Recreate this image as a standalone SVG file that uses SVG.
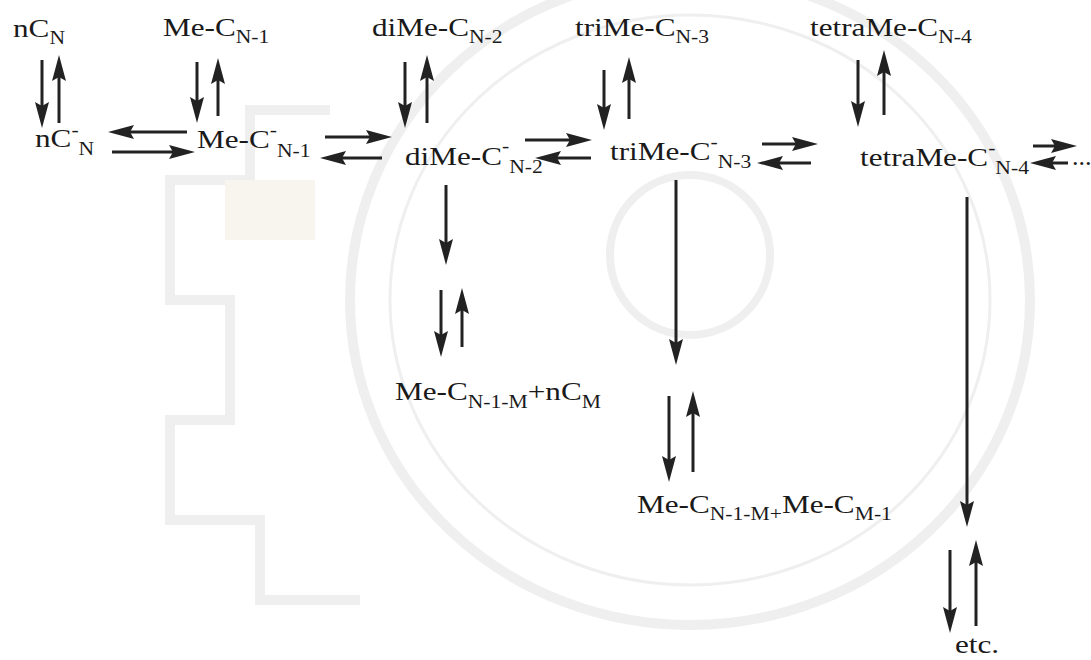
<svg xmlns="http://www.w3.org/2000/svg" width="1091" height="660" viewBox="0 0 1091 660">
  <defs>
    <style>
      .lbl { font-family: "Liberation Serif", "Times New Roman", serif; font-size: 26px; fill: #1a1a1a; }
      .sm { font-size: 18px; }
      .arr { stroke: #222; stroke-width: 3; fill: none; marker-end: url(#ah); }
      .wm { fill: none; stroke: #efefef; }
    </style>
    <marker id="ah" markerUnits="userSpaceOnUse" markerWidth="26" markerHeight="14" viewBox="0 0 26 14" refX="7" refY="7" orient="auto">
      <path d="M0,0 L26,7 L0,14 L4,7 z" fill="#222"/>
    </marker>
  </defs>

  <rect width="1091" height="660" fill="#ffffff"/>

  <!-- faint background emblem -->
  <g id="emblem">
    <ellipse class="wm" cx="690" cy="300" rx="340" ry="325" stroke-width="10"/>
    <ellipse class="wm" cx="690" cy="300" rx="300" ry="285" stroke-width="3"/>
    <circle class="wm" cx="690" cy="255" r="80" stroke-width="8"/>
    <path class="wm" stroke-width="10" d="M330,110 L250,110 L250,180 L170,180 L170,300 L230,300 L230,420 L170,420 L170,520 L260,520 L260,600 L360,600"/>
    <rect x="225" y="180" width="90" height="60" fill="#f8f5ee"/>
  </g>

  <!-- species labels -->
  <g id="nCN" class="lbl" transform="translate(13,37) scale(1.2,1)"><text x="0" y="0">nC<tspan class="sm" dy="7">N</tspan></text></g>
  <g id="MeCN1" class="lbl" transform="translate(163,36) scale(1.2,1)"><text x="0" y="0">Me-C<tspan class="sm" dy="7">N-1</tspan></text></g>
  <g id="diMeCN2" class="lbl" transform="translate(372,36) scale(1.2,1)"><text x="0" y="0">diMe-C<tspan class="sm" dy="7">N-2</tspan></text></g>
  <g id="triMeCN3" class="lbl" transform="translate(575,36) scale(1.2,1)"><text x="0" y="0">triMe-C<tspan class="sm" dy="7">N-3</tspan></text></g>
  <g id="tetraMeCN4" class="lbl" transform="translate(810,36) scale(1.2,1)"><text x="0" y="0">tetraMe-C<tspan class="sm" dy="7">N-4</tspan></text></g>

  <g id="nCNion" class="lbl" transform="translate(35,147) scale(1.2,1)"><text x="0" y="0">nC<tspan class="sm" dy="-11">-</tspan><tspan class="sm" dy="19">N</tspan></text></g>
  <g id="MeCN1ion" class="lbl" transform="translate(197,148) scale(1.2,1)"><text x="0" y="0">Me-C<tspan class="sm" dy="-12">-</tspan><tspan class="sm" dy="21">N-1</tspan></text></g>
  <g id="diMeCN2ion" class="lbl" transform="translate(405,165) scale(1.2,1)"><text x="0" y="0">diMe-C<tspan class="sm" dy="-13">-</tspan><tspan class="sm" dy="21">N-2</tspan></text></g>
  <g id="triMeCN3ion" class="lbl" transform="translate(610,160) scale(1.2,1)"><text x="0" y="0">triMe-C<tspan class="sm" dy="-12">-</tspan><tspan class="sm" dy="20">N-3</tspan></text></g>
  <g id="tetraMeCN4ion" class="lbl" transform="translate(860,166) scale(1.2,1)"><text x="0" y="0">tetraMe-C<tspan class="sm" dy="-12">-</tspan><tspan class="sm" dy="20">N-4</tspan></text></g>
  <g id="more" class="lbl" transform="translate(1072,165)"><text x="0" y="0">...</text></g>

  <g id="prod1" class="lbl" transform="translate(395,400) scale(1.2,1)"><text x="0" y="0">Me-C<tspan class="sm" dy="8">N-1-M</tspan><tspan dy="-8">+nC</tspan><tspan class="sm" dy="8">M</tspan></text></g>
  <g id="prod2" class="lbl" transform="translate(637,513) scale(1.2,1)"><text x="0" y="0">Me-C<tspan class="sm" dy="7">N-1-M+</tspan><tspan dy="-7">Me-C</tspan><tspan class="sm" dy="7">M-1</tspan></text></g>
  <g id="etc" class="lbl" transform="translate(955,653) scale(1.2,1)"><text x="0" y="0">etc.</text></g>

  <!-- reaction arrows -->
  <g id="connectors">
    <line class="arr" x1="42" y1="60" x2="42" y2="109"/>
    <line class="arr" x1="59" y1="123" x2="59" y2="74"/>
    <line class="arr" x1="197" y1="62" x2="197" y2="104"/>
    <line class="arr" x1="218" y1="116" x2="218" y2="77"/>
    <line class="arr" x1="405" y1="62" x2="405" y2="109"/>
    <line class="arr" x1="427" y1="123" x2="427" y2="74"/>
    <line class="arr" x1="604" y1="70" x2="604" y2="111"/>
    <line class="arr" x1="629" y1="119" x2="629" y2="76"/>
    <line class="arr" x1="858" y1="60" x2="858" y2="108"/>
    <line class="arr" x1="884" y1="115" x2="884" y2="69"/>

    <line class="arr" x1="187" y1="132" x2="127" y2="132"/>
    <line class="arr" x1="112" y1="152" x2="176" y2="152"/>
    <line class="arr" x1="325" y1="137" x2="373" y2="137"/>
    <line class="arr" x1="382" y1="158" x2="339" y2="158"/>
    <line class="arr" x1="525" y1="140" x2="573" y2="140"/>
    <line class="arr" x1="591" y1="158" x2="554" y2="158"/>
    <line class="arr" x1="762" y1="144" x2="799" y2="144"/>
    <line class="arr" x1="811" y1="163" x2="776" y2="163"/>
    <line class="arr" x1="1033" y1="146" x2="1058" y2="146"/>
    <line class="arr" x1="1068" y1="163" x2="1049" y2="163"/>

    <line class="arr" x1="446" y1="185" x2="446" y2="246"/>
    <line class="arr" x1="676" y1="180" x2="676" y2="346"/>
    <line class="arr" x1="967" y1="197" x2="967" y2="508"/>

    <line class="arr" x1="441" y1="290" x2="441" y2="338"/>
    <line class="arr" x1="462" y1="347" x2="462" y2="307"/>
    <line class="arr" x1="669" y1="396" x2="669" y2="463"/>
    <line class="arr" x1="693" y1="472" x2="693" y2="410"/>
    <line class="arr" x1="950" y1="550" x2="950" y2="614"/>
    <line class="arr" x1="976" y1="626" x2="976" y2="559"/>
  </g>
</svg>
